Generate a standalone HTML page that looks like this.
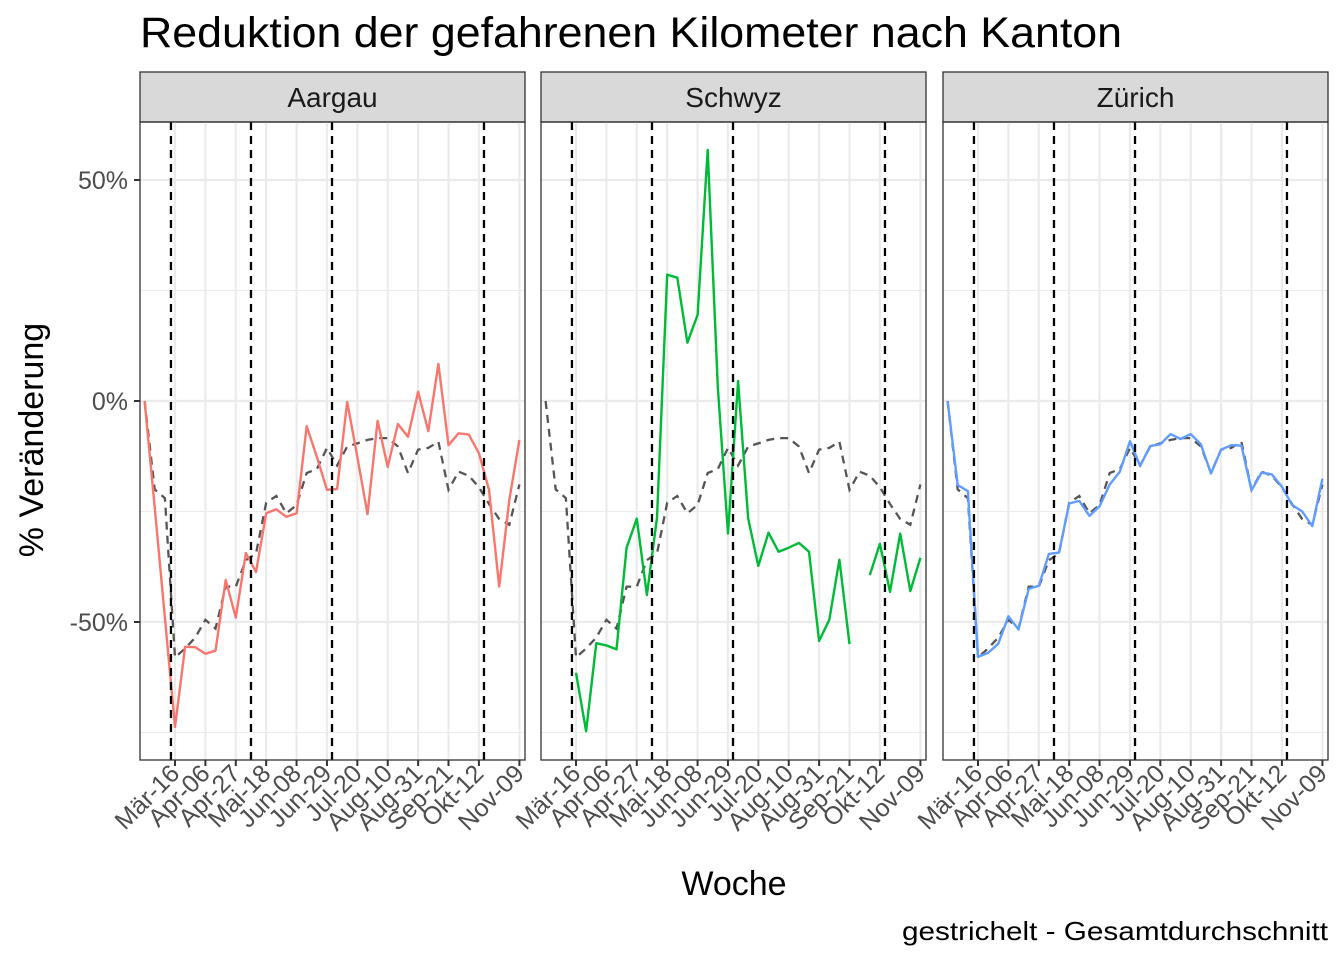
<!DOCTYPE html>
<html><head><meta charset="utf-8"><style>
html,body{margin:0;padding:0;background:#fff;}
svg{display:block;font-family:"Liberation Sans",sans-serif;}
</style></head><body>
<svg id="chart" width="1344" height="960" viewBox="0 0 1344 960">
<text x="140" y="47" font-size="43" textLength="982" lengthAdjust="spacingAndGlyphs" fill="#000">Reduktion der gefahrenen Kilometer nach Kanton</text>
<text x="734" y="895" font-size="34" text-anchor="middle" fill="#000">Woche</text>
<text transform="translate(43,440) rotate(-90)" font-size="34" text-anchor="middle" fill="#000">% Veränderung</text>
<text x="902" y="940" font-size="26" textLength="426" lengthAdjust="spacingAndGlyphs" fill="#000">gestrichelt - Gesamtdurchschnitt</text>
<g id="panels"></g>
</svg>
<script>
const weeks = [-3,-2,-1,0,1,2,3,4,5,6,7,8,9,10,11,12,13,14,15,16,17,18,19,20,21,22,23,24,25,26,27,28,29,30,31,32,33,34];
const average = [0,-20,-22,-58,-56,-53.5,-49.5,-51.5,-42,-42,-36,-34.5,-23,-21.5,-25.4,-23.5,-16.3,-15.4,-10.6,-14.6,-10.3,-9.6,-8.8,-8.4,-8.4,-10.3,-16.3,-11,-10.6,-9.2,-20.1,-16,-16.9,-19.5,-23.3,-26.7,-28,-18.9];
const aargau = [0,-24,-49,-73.7,-55.6,-55.7,-57.2,-56.5,-40.5,-49,-34.4,-38.7,-25.4,-24.5,-26.2,-25.4,-5.7,-12.6,-20.1,-19.9,-0.2,-12.6,-25.6,-4.5,-14.9,-5.2,-8.1,2.1,-6.8,8.4,-10,-7.3,-7.6,-11.8,-20.1,-42,-22.4,-8.8];
const schwyz = [null,null,null,-61.5,-74.7,-54.8,-55.3,-56.2,-33.2,-26.6,-43.9,-26.4,28.6,27.9,13.2,19.5,56.8,3.2,-30,4.5,-26.6,-37.3,-29.8,-34.1,-33.2,-32.1,-34.1,-54.3,-49.5,-35.9,-55,null,-39.4,-32.3,-43.2,-30,-43,-35.5];
const zuerich = [0,-19,-20.4,-57.9,-57,-54.9,-48.7,-51.7,-42.5,-41.8,-34.6,-34.3,-23.2,-22.6,-26,-23.8,-18.9,-16,-9.1,-14.7,-10.2,-9.8,-7.5,-8.6,-7.5,-9.8,-16.4,-11,-10,-10.1,-20.2,-16.2,-16.6,-19.4,-23.5,-25,-28.3,-17.6];
const tickWeeks = [0,3,6,9,12,15,18,21,24,27,30,34];
const tickLabels = ["Mär-16","Apr-06","Apr-27","Mai-18","Jun-08","Jun-29","Jul-20","Aug-10","Aug-31","Sep-21","Okt-12","Nov-09"];
const yTicks = [50,0,-50];
const yTickLabels = ["50%","0%","-50%"];
const yMinor = [25,-25,-75];
const eventWeeks = [-0.4,7.5,15.5,30.5];
const panelNames = ["Aargau","Schwyz","Zürich"];
const panelColors = ["#F8766D","#00BA38","#619CFF"];
const panelData = [aargau, schwyz, zuerich];

const NS = "http://www.w3.org/2000/svg";
const panelX = [140,541,943], PW = 385, PT = 122, PB = 760;
const yScale = v => 401 - v * 4.42;
function mk(tag, attrs, parent){const e=document.createElementNS(NS,tag);for(const k in attrs)e.setAttribute(k,attrs[k]);parent.appendChild(e);return e;}
const root = document.getElementById('panels');
function pathFor(vals, xs){
  let d="", pen=false;
  vals.forEach((v,i)=>{ if(v===null){pen=false;return;} d += (pen?"L":"M")+xs(weeks[i]).toFixed(1)+","+yScale(v).toFixed(1); pen=true;});
  return d;
}
panelX.forEach((x0,p)=>{
  const xs = w => x0 + 35 + w*10.13;
  const g = mk('g',{},root);
  
  
  const strip = mk('rect',{x:x0,y:72,width:PW,height:50,fill:'#d9d9d9',stroke:'#333',"stroke-width":1.3},g);
  
  
  const st = mk('text',{x:x0+PW/2,y:107,"font-size":28,"text-anchor":"middle",fill:'#1a1a1a'},g);
  st.textContent = panelNames[p];
  
  
  yMinor.forEach(v=>{ const l=mk('line',{x1:x0,x2:x0+PW,y1:yScale(v),y2:yScale(v),stroke:'#ebebeb',"stroke-width":1.1},g);
     });
  yTicks.forEach(v=>{ const l=mk('line',{x1:x0,x2:x0+PW,y1:yScale(v),y2:yScale(v),stroke:'#ebebeb',"stroke-width":2.2},g);
     });
  tickWeeks.forEach((w,i)=>{ const l=mk('line',{x1:xs(w),x2:xs(w),y1:PT,y2:PB,stroke:'#ebebeb',"stroke-width":2.2},g);
     
    const t=mk('line',{x1:xs(w),x2:xs(w),y1:PB,y2:PB+6,stroke:'#333',"stroke-width":2},g);
     
    const lx = xs(w)+6, ly = PB+15;
    const tl=mk('text',{transform:`translate(${lx},${ly}) rotate(-45)`,"font-size":25,"text-anchor":"end",fill:'#4d4d4d'},g);
    tl.textContent = tickLabels[i];
     
  });
  const avg = mk('path',{d:pathFor(average,xs),fill:'none',stroke:'#555',"stroke-width":2.3,"stroke-dasharray":"8,6"},g);
   
  const s = mk('path',{d:pathFor(panelData[p],xs),fill:'none',stroke:panelColors[p],"stroke-width":2.4,"stroke-linejoin":"round"},g);
   
  eventWeeks.forEach(w=>{ const l=mk('line',{x1:xs(w),x2:xs(w),y1:PT,y2:PB,stroke:'#000',"stroke-width":2.3,"stroke-dasharray":"8,6"},g);
     });
  const b = mk('rect',{x:x0,y:PT,width:PW,height:PB-PT,fill:'none',stroke:'#333',"stroke-width":1.3},g);
   
  if(p===0){
    yTicks.forEach((v,i)=>{
      const t=mk('line',{x1:x0-6,x2:x0,y1:yScale(v),y2:yScale(v),stroke:'#333',"stroke-width":2},g);
       
      const tl=mk('text',{x:x0-12,y:yScale(v)+9,"font-size":25,"text-anchor":"end",fill:'#4d4d4d'},g);
      tl.textContent=yTickLabels[i];
       
    });
  }
});
</script>
</body></html>
